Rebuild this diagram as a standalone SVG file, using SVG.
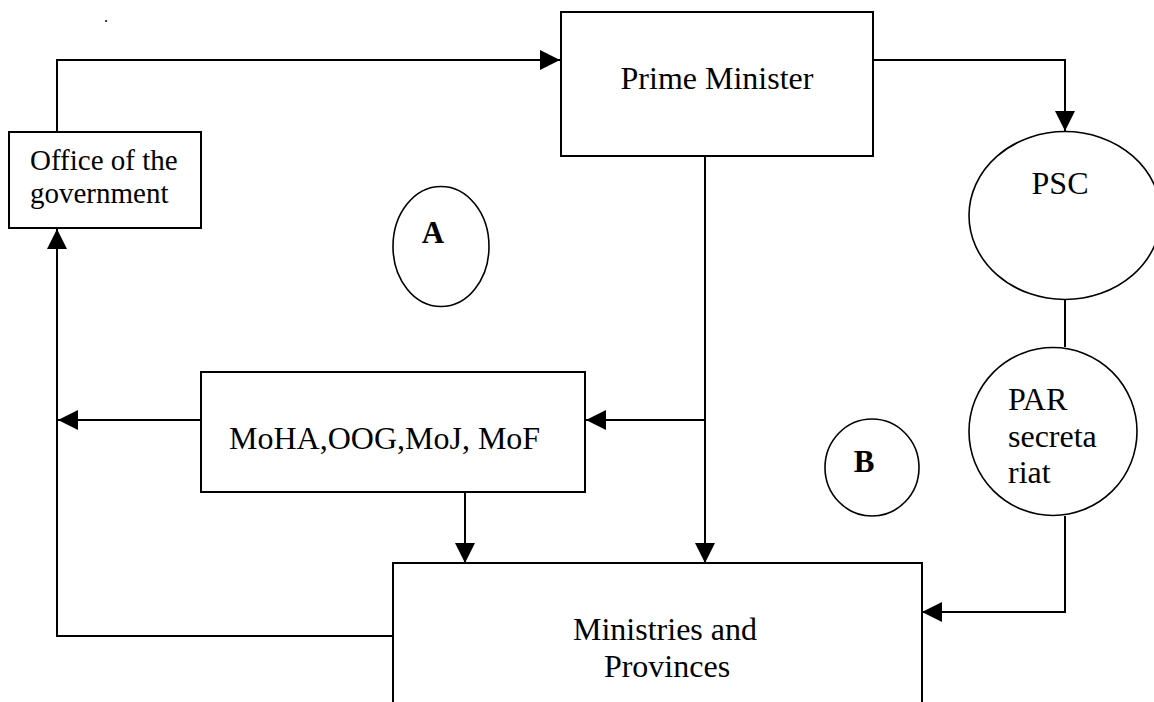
<svg xmlns="http://www.w3.org/2000/svg" width="1154" height="702" viewBox="0 0 1154 702">
  <style>
    .box { fill: #ffffff; stroke: #000000; stroke-width: 2; }
    .oval { fill: #ffffff; stroke: #000000; stroke-width: 1.6; }
    .wire { fill: none; stroke: #000000; stroke-width: 2; }
    .lbl { font-family: "Liberation Serif", "Times New Roman", serif; fill: #000000; }
    .big { font-size: 32px; }
    .mid { font-size: 29px; }
    .tag { font-size: 31px; font-weight: bold; }
  </style>
  <defs>
    <marker id="arrow" markerUnits="userSpaceOnUse" markerWidth="20" markerHeight="20" refX="20" refY="10" orient="auto">
      <path d="M0,0 L20,10 L0,20 Z" fill="#000000"/>
    </marker>
  </defs>

  <rect width="1154" height="702" fill="#ffffff"/>
  <text class="lbl" x="104" y="22" font-size="16">.</text>

  <!-- connectors -->
  <g id="connectors">
    <path class="wire" d="M57,132 V60 H560" marker-end="url(#arrow)"/>
    <path class="wire" d="M873,60 H1065 V131" marker-end="url(#arrow)"/>
    <path class="wire" d="M705,156 V563" marker-end="url(#arrow)"/>
    <path class="wire" d="M705,420 H586" marker-end="url(#arrow)"/>
    <path class="wire" d="M201,420 H58" marker-end="url(#arrow)"/>
    <path class="wire" d="M465,492 V563" marker-end="url(#arrow)"/>
    <path class="wire" d="M393,636 H57 V229" marker-end="url(#arrow)"/>
    <path class="wire" d="M1065,299 V347"/>
    <path class="wire" d="M1065,516 V612 H922" marker-end="url(#arrow)"/>
  </g>

  <g id="prime-minister">
    <rect class="box" x="561" y="12" width="312" height="144"/>
    <text class="lbl big" x="717" y="89" text-anchor="middle">Prime Minister</text>
  </g>

  <g id="office-of-government">
    <rect class="box" x="9" y="132" width="192" height="96"/>
    <text class="lbl mid" x="30" y="170">Office of the</text>
    <text class="lbl mid" x="30" y="203">government</text>
  </g>

  <g id="psc">
    <ellipse class="oval" cx="1065" cy="215.5" rx="96" ry="84"/>
    <text class="lbl big" x="1060" y="194" text-anchor="middle">PSC</text>
  </g>

  <g id="marker-a">
    <ellipse class="oval" cx="441" cy="246.5" rx="48" ry="60"/>
    <text class="lbl tag" x="433" y="243" text-anchor="middle">A</text>
  </g>

  <g id="central-agencies">
    <rect class="box" x="201" y="372" width="384" height="120"/>
    <text class="lbl big" x="229" y="449">MoHA,OOG,MoJ, MoF</text>
  </g>

  <g id="marker-b">
    <ellipse class="oval" cx="872" cy="467.5" rx="47" ry="48.5"/>
    <text class="lbl tag" x="864" y="472" text-anchor="middle">B</text>
  </g>

  <g id="par-secretariat">
    <ellipse class="oval" cx="1053" cy="431.5" rx="84" ry="84"/>
    <text class="lbl big" x="1008" y="410">PAR</text>
    <text class="lbl big" x="1008" y="447">secreta</text>
    <text class="lbl big" x="1008" y="483">riat</text>
  </g>

  <g id="ministries-provinces">
    <rect class="box" x="393" y="563" width="529" height="160"/>
    <text class="lbl big" x="665" y="640" text-anchor="middle">Ministries and</text>
    <text class="lbl big" x="667" y="677" text-anchor="middle">Provinces</text>
  </g>
</svg>
